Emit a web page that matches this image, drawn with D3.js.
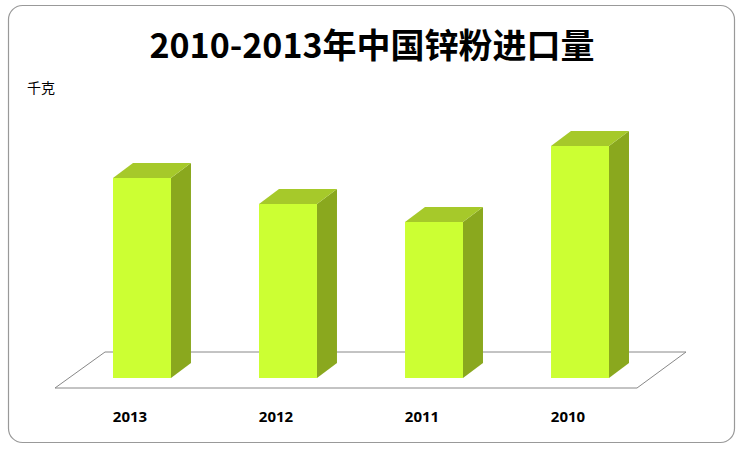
<!DOCTYPE html>
<html><head><meta charset="utf-8">
<script src="https://cdn.jsdelivr.net/npm/d3@7"></script>
<style>body{margin:0;background:#fff}</style></head>
<body><svg id="c" width="743" height="449"></svg>
<script>
const categories=["2013","2012","2011","2010"];
const values=[200,174,156,232];
const svg=d3.select("#c");
svg.append("rect").attr("x",8.5).attr("y",5.5).attr("width",726).attr("height",437).attr("rx",14).attr("fill","#fff").attr("stroke","#999").attr("stroke-width",1.2);
svg.append("text").attr("x",372).attr("y",58).attr("text-anchor","middle").attr("font-family","'Noto Sans CJK SC','Noto Sans',sans-serif").attr("font-weight","bold").attr("font-size",34).text("2010-2013年中国锌粉进口量");
svg.append("text").attr("x",27).attr("y",93).attr("font-family","'Noto Sans CJK SC',sans-serif").attr("font-size",14).text("千克");
const base=378, dx=20, dy=-15;
svg.append("polygon").attr("points",`55,388 637,388 686,352 105,352`).attr("fill","#fff").attr("stroke","#888").attr("stroke-width",1);
const x=d3.scaleBand().domain(categories).range([40,682]).paddingInner(0.603).paddingOuter(0.5);
const y=d3.scaleLinear().domain([0,250]).range([base,base-250]);
const g=svg.selectAll("g.bar").data(categories.map((c,i)=>({c,v:values[i]}))).enter().append("g");
g.append("polygon").attr("points",d=>{const x0=x(d.c)+x.bandwidth(),t=y(d.v);return `${x0},${base} ${x0+dx},${base+dy} ${x0+dx},${t+dy} ${x0},${t}`}).attr("fill","#8aa81e");
g.append("polygon").attr("points",d=>{const x0=x(d.c),x1=x0+x.bandwidth(),t=y(d.v);return `${x0},${t} ${x1},${t} ${x1+dx},${t+dy} ${x0+dx},${t+dy}`}).attr("fill","#a6c92a");
g.append("rect").attr("x",d=>x(d.c)).attr("y",d=>y(d.v)).attr("width",x.bandwidth()).attr("height",d=>base-y(d.v)).attr("fill","#ccff33");
svg.selectAll("text.lab").data(categories).enter().append("text").attr("x",d=>x(d)+x.bandwidth()/2-12).attr("y",422).attr("text-anchor","middle").attr("font-family","'Open Sans',sans-serif").attr("font-weight","bold").attr("font-size",15).text(d=>d);
</script></body></html>
